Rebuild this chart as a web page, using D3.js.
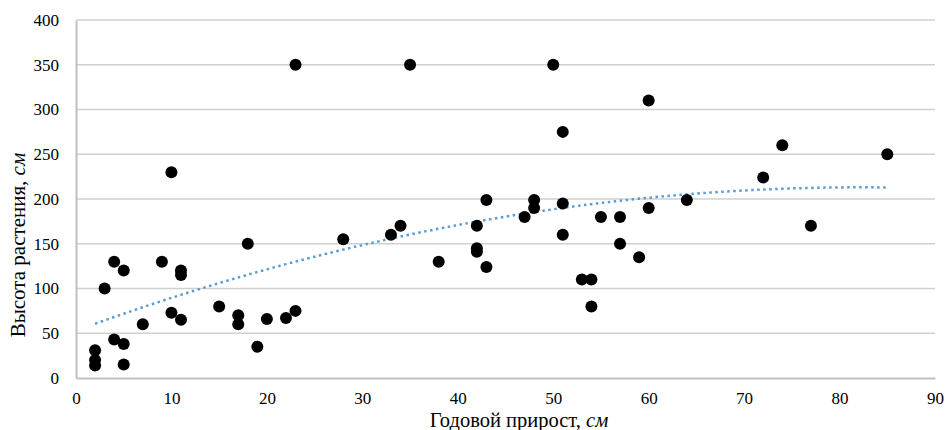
<!DOCTYPE html>
<html>
<head>
<meta charset="utf-8">
<title>Высота растения и годовой прирост</title>
<script src="https://d3js.org/d3.v7.min.js"></script>
<style>
  body { margin: 0; background: #fff; }
  .grid line { stroke: #d0d0d0; stroke-width: 1.5px; }
  .trend { fill: none; stroke: #5b9bd5; stroke-width: 2.5px; stroke-dasharray: 2.5 3.5; }
</style>
</head>
<body>
<div id="chart"></div>
<script>
// annual growth (cm) and plant height (cm)
const growth = [2, 2, 2, 3, 4, 4, 5, 5, 5, 7, 9, 10, 10, 11, 11, 11, 15, 17, 17, 18,
  19, 20, 22, 23, 23, 28, 33, 34, 35, 38, 42, 42, 42, 43, 43, 47, 48, 48, 50, 51,
  51, 51, 53, 54, 54, 55, 57, 57, 59, 60, 60, 64, 72, 74, 77, 85];
const height = [31, 20, 14, 100, 130, 43, 120, 38, 15, 60, 130, 230, 73, 120, 115, 65, 80, 70, 60, 150,
  35, 66, 67, 350, 75, 155, 160, 170, 350, 130, 170, 145, 141, 199, 124, 180, 199, 190, 350, 275,
  195, 160, 110, 110, 80, 180, 180, 150, 135, 310, 190, 199, 224, 260, 170, 250];
const xTicks = [0, 10, 20, 30, 40, 50, 60, 70, 80, 90];
const yTicks = [0, 50, 100, 150, 200, 250, 300, 350, 400];
const xTitle = "Годовой прирост, ";
const yTitle = "Высота растения, ";
const unit = "см";

const FONT = "'Liberation Serif', 'Times New Roman', serif";
const W = 946, H = 430;
const m = { left: 76, right: 11, top: 20, bottom: 52 };

const svg = d3.select("#chart").append("svg")
  .attr("width", W).attr("height", H)
  .style("font-family", FONT);

const x = d3.scaleLinear().domain([0, 90]).range([m.left, W - m.right]);
const y = d3.scaleLinear().domain([0, 400]).range([H - m.bottom, m.top]);

// horizontal gridlines
svg.append("g").attr("class", "grid")
  .selectAll("line").data(yTicks.slice(1)).join("line")
  .attr("x1", x(0)).attr("x2", x(90))
  .attr("y1", d => y(d)).attr("y2", d => y(d));

// axes
const xAxis = svg.append("g")
  .attr("transform", `translate(0,${y(0)})`)
  .call(d3.axisBottom(x).tickValues(xTicks).tickSize(0).tickPadding(14));
const yAxis = svg.append("g")
  .attr("transform", `translate(${x(0)},0)`)
  .call(d3.axisLeft(y).tickValues(yTicks).tickSize(0).tickPadding(17));
[xAxis, yAxis].forEach(a => {
  a.attr("font-family", null);
  a.select(".domain").attr("stroke", "#c0c0c0").attr("stroke-width", 2);
  a.selectAll("text")
    .style("font-family", FONT)
    .style("font-size", "17px").attr("fill", "#000");
});

// polynomial (2nd order) trendline, least squares from the points
function quadFit(xs, ys) {
  let s = [0, 0, 0, 0, 0], t = [0, 0, 0];
  xs.forEach((xv, i) => {
    for (let k = 0; k < 5; k++) s[k] += Math.pow(xv, k);
    for (let k = 0; k < 3; k++) t[k] += ys[i] * Math.pow(xv, k);
  });
  const A = [[s[0], s[1], s[2], t[0]], [s[1], s[2], s[3], t[1]], [s[2], s[3], s[4], t[2]]];
  for (let i = 0; i < 3; i++) {
    for (let j = i + 1; j < 3; j++) {
      const f = A[j][i] / A[i][i];
      for (let k = i; k < 4; k++) A[j][k] -= f * A[i][k];
    }
  }
  const c = [0, 0, 0];
  for (let i = 2; i >= 0; i--) {
    let v = A[i][3];
    for (let k = i + 1; k < 3; k++) v -= A[i][k] * c[k];
    c[i] = v / A[i][i];
  }
  return c;
}
const coef = quadFit(growth, height);
const gx = d3.range(d3.min(growth), d3.max(growth) + 0.01, 0.5);
svg.append("path").attr("class", "trend")
  .datum(gx)
  .attr("d", d3.line().x(d => x(d)).y(d => y(coef[0] + coef[1] * d + coef[2] * d * d)));

// points
svg.append("g").selectAll("circle")
  .data(growth.map((g, i) => [g, height[i]]))
  .join("circle")
  .attr("cx", d => x(d[0])).attr("cy", d => y(d[1]))
  .attr("r", 6).attr("fill", "#000");

// axis titles
const xt = svg.append("text")
  .attr("x", 519).attr("y", 427)
  .attr("text-anchor", "middle")
  .style("font-family", FONT).style("font-size", "20.5px");
xt.append("tspan").text(xTitle);
xt.append("tspan").style("font-style", "italic").text(unit);

const yt = svg.append("text")
  .attr("transform", "translate(25,245) rotate(-90)")
  .attr("text-anchor", "middle")
  .style("font-family", FONT).style("font-size", "21px");
yt.append("tspan").text(yTitle);
yt.append("tspan").style("font-style", "italic").text(unit);
</script>
</body>
</html>
